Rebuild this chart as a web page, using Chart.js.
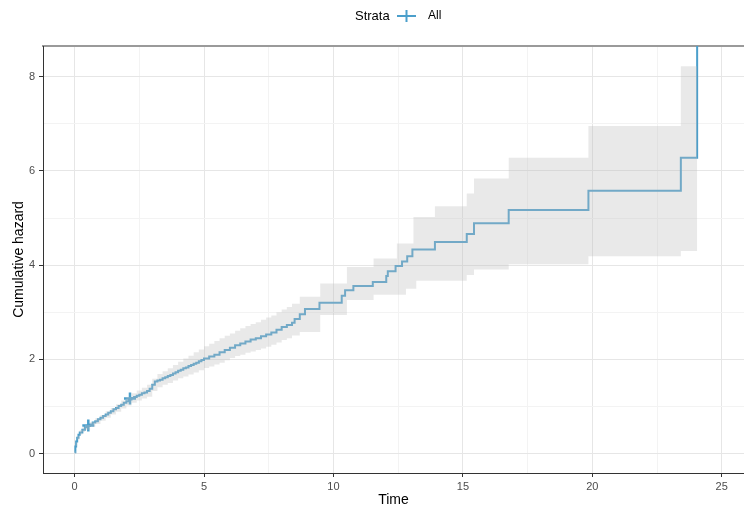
<!DOCTYPE html>
<html>
<head>
<meta charset="utf-8">
<script src="https://cdn.jsdelivr.net/npm/chart.js@4/dist/chart.umd.min.js"></script>
<style>
  html, body { margin: 0; padding: 0; background: #fff; }
  #wrap { width: 744px; height: 509px; position: relative; }
</style>
</head>
<body>
<div id="wrap"><canvas id="chart"></canvas></div>
<script>
// cumulative hazard (step function)
const times = [0, 0.03, 0.06, 0.1, 0.15, 0.2, 0.3, 0.4, 0.5, 0.6, 0.7, 0.8, 0.9, 1.0,
  1.1, 1.2, 1.3, 1.4, 1.5, 1.6, 1.7, 1.8, 1.9, 2.0, 2.1, 2.2, 2.3, 2.4, 2.5, 2.6, 2.7, 2.8, 2.9, 3.0,
  3.1, 3.2, 3.3, 3.4, 3.5, 3.6, 3.7, 3.8, 3.9, 4.0, 4.1, 4.2, 4.3, 4.4, 4.5, 4.6, 4.7, 4.8, 4.9, 5.0,
  5.2, 5.4, 5.6, 5.8, 6.0, 6.2, 6.4, 6.6, 6.8, 7.0, 7.2, 7.4, 7.6, 7.8, 8.0, 8.2, 8.4,
  8.5, 8.7, 8.9, 9.46, 10.32, 10.45, 10.77, 11.52, 12.04, 12.1, 12.4, 12.65, 12.85,
  13.05, 13.92, 15.15, 15.43, 16.77, 19.85, 23.42, 24.05];
const hazard = [0.03, 0.15, 0.26, 0.34, 0.40, 0.45, 0.51, 0.56, 0.59, 0.62, 0.66, 0.69, 0.73, 0.76,
  0.80, 0.83, 0.87, 0.90, 0.94, 0.97, 1.01, 1.04, 1.08, 1.11, 1.15, 1.18, 1.20, 1.23, 1.25, 1.28, 1.30, 1.33, 1.38, 1.46,
  1.53, 1.55, 1.57, 1.60, 1.62, 1.65, 1.67, 1.70, 1.73, 1.76, 1.78, 1.81, 1.83, 1.86, 1.88, 1.91, 1.93, 1.96, 1.99, 2.02,
  2.06, 2.10, 2.15, 2.20, 2.25, 2.30, 2.34, 2.38, 2.42, 2.45, 2.49, 2.53, 2.57, 2.63, 2.69, 2.73, 2.78,
  2.86, 2.96, 3.07, 3.20, 3.35, 3.47, 3.56, 3.64, 3.77, 3.87, 3.98, 4.08, 4.19,
  4.33, 4.49, 4.66, 4.89, 5.17, 5.58, 6.28, 11];

// confidence band
const bandTimes = [0, 0.05, 0.1, 0.2, 0.3, 0.4, 0.6, 0.8, 1.0, 1.2, 1.4, 1.6, 1.8, 2.0, 2.2, 2.4,
  2.6, 2.8, 3.0, 3.2, 3.4, 3.6, 3.8, 4.0, 4.2, 4.4, 4.6, 4.8, 5.0, 5.2, 5.4, 5.6, 5.8, 6.0,
  6.2, 6.4, 6.6, 6.8, 7.0, 7.2, 7.4, 7.6, 7.8, 8.0, 8.2, 8.4, 8.7, 9.49, 10.52, 11.55, 12.45,
  12.8, 13.09, 13.2, 13.92, 15.15, 15.43, 16.77, 19.85, 23.42, 24.05];
const bandUpper = [0.05, 0.24, 0.38, 0.50, 0.56, 0.61, 0.67, 0.75, 0.82, 0.90, 0.97, 1.05, 1.13, 1.20, 1.28, 1.34,
  1.40, 1.46, 1.59, 1.69, 1.75, 1.81, 1.88, 1.95, 2.02, 2.08, 2.15, 2.21, 2.28, 2.33, 2.39, 2.45, 2.50, 2.55,
  2.61, 2.66, 2.71, 2.75, 2.79, 2.84, 2.89, 2.93, 3.00, 3.06, 3.11, 3.18, 3.33, 3.61, 3.96, 4.14, 4.46,
  4.46, 5.02, 5.02, 5.25, 5.52, 5.84, 6.28, 6.95, 8.22, 8.22];
const bandLower = [0.01, 0.16, 0.30, 0.40, 0.46, 0.51, 0.57, 0.63, 0.70, 0.76, 0.83, 0.89, 0.96, 1.02, 1.08, 1.13,
  1.17, 1.21, 1.33, 1.41, 1.46, 1.50, 1.55, 1.60, 1.64, 1.68, 1.72, 1.77, 1.82, 1.85, 1.89, 1.93, 1.98, 2.03,
  2.07, 2.10, 2.14, 2.17, 2.20, 2.23, 2.27, 2.31, 2.36, 2.41, 2.45, 2.51, 2.58, 2.94, 3.26, 3.37, 3.37,
  3.50, 3.50, 3.67, 3.67, 3.79, 3.91, 4.02, 4.19, 4.30, 4.30];

// censoring marks
const censorTimes = [0.53, 2.14];
const censorHazard = [0.60, 1.17];

const xMajorTicks = [0, 5, 10, 15, 20, 25];
const xMinorTicks = [2.5, 7.5, 12.5, 17.5, 22.5];
const yMajorTicks = [0, 2, 4, 6, 8];
const yMinorTicks = [1, 3, 5, 7];

const lineColor = '#4b9fcb';
const FONT = "'Liberation Sans', Arial, sans-serif";

const toPoints = (xs, ys) => xs.map((x, i) => ({ x, y: ys[i] }));

const gridColor = (majors) => (ctx) => (ctx.tick && majors.includes(ctx.tick.value) ? '#e6e6e6' : '#f3f3f3');
const tickColor = (majors) => (ctx) => (ctx.tick && majors.includes(ctx.tick.value) ? '#333333' : 'rgba(0,0,0,0)');

const legendPlugin = {
  id: 'strataLegend',
  afterDraw(chart) {
    const { ctx } = chart;
    ctx.save();
    ctx.font = `13px ${FONT}`;
    ctx.fillStyle = '#000';
    ctx.textBaseline = 'middle';
    ctx.textAlign = 'left';
    ctx.fillText('Strata', 355, 16);
    ctx.strokeStyle = lineColor;
    ctx.lineWidth = 2;
    ctx.beginPath();
    ctx.moveTo(397, 16);
    ctx.lineTo(416, 16);
    ctx.moveTo(406.5, 10);
    ctx.lineTo(406.5, 22);
    ctx.stroke();
    ctx.font = `12px ${FONT}`;
    ctx.fillText('All', 428, 16);
    ctx.restore();
  },
};

// eslint-disable-next-line no-new
new Chart(document.getElementById('chart'), {
  type: 'line',
  data: {
    datasets: [
      {
        label: 'upper',
        data: toPoints(bandTimes, bandUpper),
        stepped: true,
        borderWidth: 0,
        borderColor: 'rgba(0,0,0,0)',
        pointRadius: 0,
        fill: '+1',
        backgroundColor: 'rgba(190,190,190,0.34)',
        xAxisID: 'x',
        yAxisID: 'y',
      },
      {
        label: 'lower',
        data: toPoints(bandTimes, bandLower),
        stepped: true,
        borderWidth: 0,
        borderColor: 'rgba(0,0,0,0)',
        pointRadius: 0,
        fill: false,
        xAxisID: 'x',
        yAxisID: 'y',
      },
      {
        label: 'All',
        data: toPoints(times, hazard),
        stepped: true,
        borderColor: lineColor,
        borderWidth: 2,
        pointRadius: 0,
        fill: false,
        xAxisID: 'x',
        yAxisID: 'y',
      },
      {
        type: 'scatter',
        label: 'censor',
        data: toPoints(censorTimes, censorHazard),
        pointStyle: 'cross',
        pointRadius: 6,
        pointBorderWidth: 2.5,
        borderColor: lineColor,
        backgroundColor: lineColor,
        showLine: false,
        xAxisID: 'x',
        yAxisID: 'y',
      },
    ],
  },
  plugins: [legendPlugin],
  options: {
    responsive: true,
    maintainAspectRatio: false,
    animation: false,
    layout: { autoPadding: false, padding: { top: 46, left: 0, right: 0, bottom: 0 } },
    plugins: {
      legend: { display: false },
      tooltip: { enabled: false },
    },
    scales: {
      x: {
        type: 'linear',
        position: 'bottom',
        min: -1.22,
        max: 25.86,
        afterBuildTicks(axis) {
          axis.ticks = [...xMajorTicks, ...xMinorTicks].sort((a, b) => a - b).map((v) => ({ value: v }));
        },
        afterFit(axis) { axis.height = 36; },
        grid: {
          color: gridColor(xMajorTicks),
          tickColor: tickColor(xMajorTicks),
          tickLength: 4,
          lineWidth: 1,
        },
        border: { color: '#333333', width: 1 },
        ticks: {
          autoSkip: false,
          maxRotation: 0,
          padding: 3,
          color: '#4d4d4d',
          font: { family: FONT, size: 11 },
          callback(val) { return xMajorTicks.includes(val) ? String(val) : ''; },
        },
        title: {
          display: true,
          text: 'Time',
          color: '#000',
          font: { family: FONT, size: 14 },
          padding: { top: 0, bottom: 0 },
        },
      },
      xTop: {
        type: 'linear',
        position: 'top',
        afterFit(axis) { axis.height = 0; },
        grid: { display: false, drawTicks: false },
        ticks: { display: false },
        border: { color: '#9a9a9a', width: 2 },
      },
      y: {
        type: 'linear',
        min: -0.41,
        max: 8.65,
        afterBuildTicks(axis) {
          axis.ticks = [...yMajorTicks, ...yMinorTicks].sort((a, b) => a - b).map((v) => ({ value: v }));
        },
        afterFit(axis) { axis.width = 43; },
        grid: {
          color: gridColor(yMajorTicks),
          tickColor: tickColor(yMajorTicks),
          tickLength: 4,
          lineWidth: 1,
        },
        border: { color: '#333333', width: 1 },
        ticks: {
          autoSkip: false,
          padding: 4,
          color: '#4d4d4d',
          font: { family: FONT, size: 11 },
          callback(val) { return yMajorTicks.includes(val) ? String(val) : ''; },
        },
        title: {
          display: true,
          text: 'Cumulative hazard',
          color: '#000',
          font: { family: FONT, size: 14 },
          padding: { top: 11, bottom: 0 },
        },
      },
    },
  },
});
</script>
</body>
</html>
